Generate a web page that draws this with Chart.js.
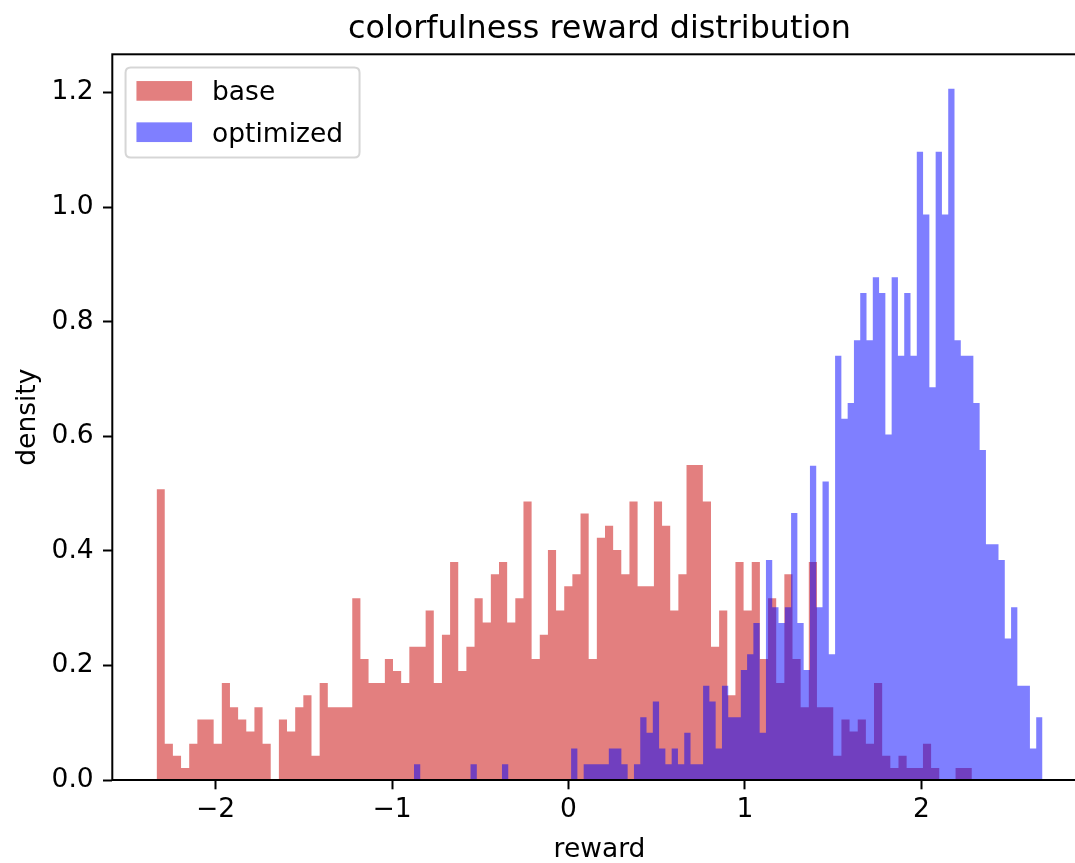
<!DOCTYPE html>
<html>
<head>
<meta charset="utf-8">
<script src="https://cdn.jsdelivr.net/npm/chart.js@4.4.1/dist/chart.umd.min.js"></script>
<style>
  html, body { margin: 0; padding: 0; background: #fff; overflow: hidden; }
  #wrap { width: 1075px; height: 863px; overflow: hidden; position: relative; }
  canvas { display: block; }
</style>
</head>
<body>
<div id="wrap"><canvas id="chart" width="1100" height="863"></canvas></div>
<script>
// ---- chart text ----
const titleText = 'colorfulness reward distribution';
const xLabel = 'reward';
const yLabel = 'density';
const seriesNames = ['base', 'optimized'];

// ---- histogram bins (100 equal-width bins over each series' range) ----
const binCount = 100;
const baseRange = [-2.3345, 2.2857];
const optimizedRange = [-0.8759, 2.6860];

// density per bin, base model
const baseDensity = [
  0.5073, 0.0634, 0.0423, 0.0211, 0.0634, 0.1057, 0.1057, 0.0634, 0.1691, 0.1268,
  0.1057, 0.0845, 0.1268, 0.0634, 0,      0.1057, 0.0845, 0.1268, 0.1480, 0.0423,
  0.1691, 0.1268, 0.1268, 0.1268, 0.3171, 0.2114, 0.1691, 0.1691, 0.2114, 0.1902,
  0.1691, 0.2325, 0.2325, 0.2959, 0.1691, 0.2536, 0.3805, 0.1902, 0.2325, 0.3171,
  0.2748, 0.3593, 0.3805, 0.2748, 0.3171, 0.4862, 0.2114, 0.2536, 0.4016, 0.2959,
  0.3382, 0.3593, 0.4650, 0.2114, 0.4227, 0.4439, 0.4016, 0.3593, 0.4862, 0.3382,
  0.3382, 0.4862, 0.4439, 0.2959, 0.3593, 0.5496, 0.5496, 0.4862, 0.2325, 0.2959,
  0.1480, 0.3805, 0.2959, 0.3805, 0.2114, 0.3171, 0.1691, 0.3593, 0.2114, 0.1268,
  0.3805, 0.1268, 0.1268, 0.0423, 0.1057, 0.0845, 0.1057, 0.0634, 0.1691, 0.0423,
  0.0211, 0.0423, 0.0211, 0.0211, 0.0634, 0.0211, 0,      0,      0.0211, 0.0211
];

// density per bin, optimized model
const optimizedDensity = [
  0.0274, 0,      0,      0,      0,      0,      0,      0,      0,      0.0274,
  0,      0,      0,      0,      0.0274, 0,      0,      0,      0,      0,
  0,      0,      0,      0,      0,      0.0548, 0,      0.0274, 0.0274, 0.0274,
  0.0274, 0.0548, 0.0548, 0.0274, 0,      0.0274, 0.1097, 0.0823, 0.1371, 0.0548,
  0.0274, 0.0548, 0.0274, 0.0823, 0.0274, 0.0274, 0.1645, 0.1371, 0.0548, 0.1645,
  0.1097, 0.1097, 0.1919, 0.2193, 0.2742, 0.0823, 0.3838, 0.3016, 0.2742, 0.3016,
  0.4661, 0.2742, 0.1919, 0.5483, 0.3016, 0.5209, 0.2193, 0.7403, 0.6306, 0.6580,
  0.7677, 0.8499, 0.7677, 0.8773, 0.8499, 0.6032, 0.8773, 0.7403, 0.8499, 0.7403,
  1.0967, 0.9870, 0.6854, 1.0967, 0.9870, 1.2063, 0.7677, 0.7403, 0.7403, 0.6580,
  0.5758, 0.4113, 0.4113, 0.3838, 0.2468, 0.3016, 0.1645, 0.1645, 0.0548, 0.1097
];

// ---- axes ----
const xLimits = [-2.5855, 2.9365];
const yLimits = [0, 1.2666];
const xTicks = [-2, -1, 0, 1, 2];
const xTickLabels = ['\u22122', '\u22121', '0', '1', '2'];
const yTicks = [0, 0.2, 0.4, 0.6, 0.8, 1.0, 1.2];
const yTickLabels = ['0.0', '0.2', '0.4', '0.6', '0.8', '1.0', '1.2'];

const seriesColors = ['rgba(200, 0, 0, 0.5)', 'rgba(0, 0, 255, 0.5)'];
const FONT_FAMILY = "'DejaVu Sans', 'Liberation Sans', sans-serif";
const SMALL = 26.5;
const LARGE = 31.8;

// Turn a bin-density list into step outline points: each bin holds its
// density from its left edge to the next edge.
function stepOutline(range, density) {
  const width = (range[1] - range[0]) / binCount;
  const pts = density.map((d, i) => ({ x: range[0] + i * width, y: d }));
  pts.push({ x: range[1], y: density[density.length - 1] });
  return pts;
}

// Frame, title, axis labels and the boxed legend.
const decorations = {
  id: 'decorations',
  afterDatasetsDraw(chart) {
    const { ctx, chartArea: ca } = chart;
    ctx.save();
    ctx.strokeStyle = '#000';
    ctx.lineWidth = 2;
    ctx.strokeRect(ca.left, ca.top, ca.right - ca.left, ca.bottom - ca.top);
    ctx.restore();
  },
  afterDraw(chart) {
    const { ctx, chartArea: ca } = chart;
    const cx = (ca.left + ca.right) / 2;
    ctx.save();
    ctx.fillStyle = '#000';
    ctx.textAlign = 'center';
    ctx.textBaseline = 'alphabetic';

    ctx.font = `${LARGE}px ${FONT_FAMILY}`;
    ctx.fillText(titleText, cx, ca.top - 15.9);

    ctx.font = `${SMALL}px ${FONT_FAMILY}`;
    ctx.fillText(xLabel, cx, 857);

    ctx.save();
    ctx.translate(34.7, (ca.top + ca.bottom) / 2);
    ctx.rotate(-Math.PI / 2);
    ctx.fillText(yLabel, 0, 0);
    ctx.restore();

    // legend box
    const bx = ca.left + 13.25, by = ca.top + 13.25, bw = 234, bh = 90, r = 5.3;
    ctx.beginPath();
    ctx.moveTo(bx + r, by);
    ctx.lineTo(bx + bw - r, by);
    ctx.quadraticCurveTo(bx + bw, by, bx + bw, by + r);
    ctx.lineTo(bx + bw, by + bh - r);
    ctx.quadraticCurveTo(bx + bw, by + bh, bx + bw - r, by + bh);
    ctx.lineTo(bx + r, by + bh);
    ctx.quadraticCurveTo(bx, by + bh, bx, by + bh - r);
    ctx.lineTo(bx, by + r);
    ctx.quadraticCurveTo(bx, by, bx + r, by);
    ctx.closePath();
    ctx.fillStyle = 'rgba(255,255,255,0.8)';
    ctx.fill();
    ctx.strokeStyle = 'rgba(204,204,204,0.8)';
    ctx.lineWidth = 2;
    ctx.stroke();

    ctx.textAlign = 'left';
    chart.data.datasets.forEach((ds, i) => {
      const rowTop = by + 13.5 + i * 41.3;
      ctx.fillStyle = ds.backgroundColor;
      ctx.fillRect(bx + 10.9, rowTop, 55.6, 19.7);
      ctx.fillStyle = '#000';
      ctx.fillText(ds.label, bx + 86.5, rowTop + 19.2);
    });
    ctx.restore();
  }
};

new Chart(document.getElementById('chart'), {
  type: 'line',
  data: {
    datasets: [
      {
        label: seriesNames[0],
        data: stepOutline(baseRange, baseDensity),
        stepped: 'before',
        fill: 'origin',
        backgroundColor: seriesColors[0],
        borderColor: 'rgba(0,0,0,0)',
        borderWidth: 0,
        pointRadius: 0,
        order: 1
      },
      {
        label: seriesNames[1],
        data: stepOutline(optimizedRange, optimizedDensity),
        stepped: 'before',
        fill: 'origin',
        backgroundColor: seriesColors[1],
        borderColor: 'rgba(0,0,0,0)',
        borderWidth: 0,
        pointRadius: 0,
        order: 0
      }
    ]
  },
  options: {
    responsive: false,
    animation: false,
    devicePixelRatio: 1,
    events: [],
    layout: { padding: { top: 54.3, right: 13.3, bottom: 0, left: 0 } },
    plugins: {
      legend: { display: false },
      tooltip: { enabled: false },
      title: { display: false }
    },
    scales: {
      x: {
        type: 'linear',
        min: xLimits[0],
        max: xLimits[1],
        afterBuildTicks: (s) => { s.ticks = xTicks.map(v => ({ value: v })); },
        afterFit: (s) => { s.height = 83; },
        grid: {
          display: true, drawOnChartArea: false, drawTicks: true,
          tickLength: 9.3, tickColor: '#000', tickWidth: 2
        },
        border: { display: false },
        ticks: {
          color: '#000',
          font: { family: FONT_FAMILY, size: SMALL },
          padding: 5,
          maxRotation: 0,
          autoSkip: false,
          callback: (v, i) => xTickLabels[i]
        }
      },
      y: {
        type: 'linear',
        min: yLimits[0],
        max: yLimits[1],
        afterBuildTicks: (s) => { s.ticks = yTicks.map(v => ({ value: v })); },
        afterFit: (s) => { s.width = 112.3; },
        grid: {
          display: true, drawOnChartArea: false, drawTicks: true,
          tickLength: 9.3, tickColor: '#000', tickWidth: 2
        },
        border: { display: false },
        ticks: {
          color: '#000',
          font: { family: FONT_FAMILY, size: SMALL },
          padding: 9.3,
          autoSkip: false,
          callback: (v, i) => yTickLabels[i]
        }
      }
    }
  },
  plugins: [decorations]
});
</script>
</body>
</html>
